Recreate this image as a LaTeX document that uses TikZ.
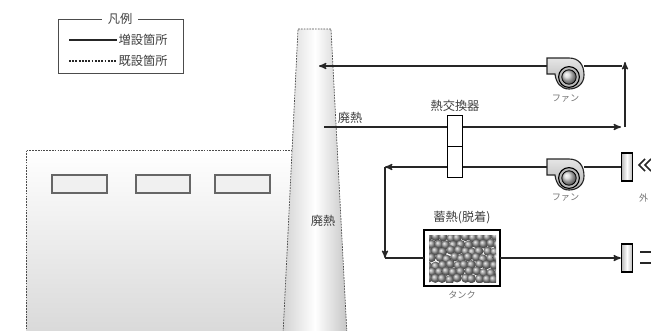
\documentclass[tikz,border=0pt]{standalone}
\usepackage{fontspec}
\newfontfamily\jpfont{Noto Sans CJK JP}
\usepackage{tikz}
\usetikzlibrary{arrows,calc,positioning,shadings}
\tikzstyle{line}=[draw,line width=0.9pt,black!85]
\tikzstyle{flowarrow}=[->,>=stealth']
\tikzstyle{txt}=[text=black!75,font=\jpfont\fontsize{8.7}{9}\selectfont,inner sep=1pt]
\tikzstyle{smalltxt}=[text=black!55,font=\jpfont\fontsize{6.5}{7}\selectfont,inner sep=1pt]
\tikzstyle{dashedge}=[draw=black!70,line width=0.5pt,dash pattern=on 1.2pt off 0.8pt]
\tikzstyle{hxbox}=[draw,line width=0.9pt,fill=white,minimum width=0.375cm,minimum height=0.775cm,inner sep=0pt]
\tikzstyle{damper}=[draw,line width=0.9pt,left color=gray!55,right color=gray!55,middle color=white,minimum width=0.275cm,minimum height=0.7cm,inner sep=0pt]
\tikzstyle{fanspot}=[inner sep=0pt,minimum width=0.925cm,minimum height=0.775cm]
\tikzstyle{tankbox}=[fill=white,inner sep=0pt,minimum width=1.875cm,minimum height=1.4cm]
\tikzstyle{window}=[draw=black!60,line width=0.8pt,fill=gray!12]
% centrifugal fan, outlet on the upper left
\newcommand{\blower}[1]{%
  \begin{scope}[shift={(#1)},shift={(3.5,3.5)}]
    \shadedraw[top color=gray!20,bottom color=gray!60,draw=black!85,line width=0.8pt]
      (-22,-19) -- (0,-19) .. controls (10,-19) and (15,-12) .. (15,-2)
      .. controls (15,7) and (8,12) .. (0,12) .. controls (-8,12) and (-13,6) .. (-14,-3)
      -- (-22,-3) -- cycle;
    \draw[line width=0.8pt,fill=gray!55] (0,0) circle (0.26cm);
    \shade[ball color=gray!35] (0,0) circle (0.18cm);
    \draw[line width=0.6pt] (0,0) circle (0.18cm);
  \end{scope}}

\begin{document}
\begin{tikzpicture}[x=0.025cm,y=-0.025cm]
\useasboundingbox (0,0) rectangle (651,330);
\clip (0,0) rectangle (651,330);
% legend
\draw[black!70,line width=0.6pt] (58,19) rectangle (183,73);
\node[txt,fill=white,inner xsep=4pt](legtitle) at (120,19){凡例};
\node[txt,anchor=west](newpart) at (117,40){増設箇所};
\node[txt,anchor=west](oldpart) at (117,61){既設箇所};
\draw[line,line width=1.4pt] (69,40) -- (newpart.west);
\draw[line,line width=1.4pt,dash pattern=on 1.3pt off 1pt] (69,61) -- (oldpart.west);
% existing building and stack
\shade[top color=white,bottom color=gray!30] (26,150) -- (292,150) -- (283,335) -- (26,335) -- cycle;
\draw[dashedge] (26,335) -- (26,150) -- (292,150);
\draw[window] (52,175) rectangle (107,193);
\draw[window] (136,175) rectangle (190,193);
\draw[window] (215,175) rectangle (270,193);
\shade[left color=gray!35,right color=gray!45,middle color=white] (298,29) -- (331,29) -- (347,335) -- (283,335) -- cycle;
\draw[dashedge] (283,335) -- (298,29) -- (331,29) -- (347,335);
\node[txt](stack) at (323,221){廃熱};
% equipment
\node[hxbox](hxA) at (455,131){};
\node[hxbox](hxB) at (455,162){};
\node[txt,above=1pt of hxA](hxname){熱交換器};
\node[fanspot](fanA) at (565.5,73.5){};
\node[fanspot](fanB) at (565.5,174.5){};
\blower{fanA}
\blower{fanB}
\node[smalltxt,below=3pt of fanA](fanAname){ファン};
\node[smalltxt,below=1pt of fanB](fanBname){ファン};
\node[damper](dampA) at (627,167){};
\node[damper](dampB) at (627,258){};
\node[tankbox](tank) at (462,258){};
\begin{scope}
\clip (429,235) rectangle (496,282);
\pgfmathsetseed{7}
\foreach \r in {0,...,6}{
  \foreach \c in {0,...,9}{
    \pgfmathsetmacro\px{428+\c*7.4+mod(\r,2)*3.7+rand*1.2}
    \pgfmathsetmacro\py{237+\r*7+rand*1.2}
    \shade[ball color=gray!85] (\px,\py) circle (0.115cm);
  }
}
\end{scope}
\draw[line width=1.7pt] (tank.south west) rectangle (tank.north east);
\node[txt,above=3pt of tank](tankname){蓄熱(脱着)};
\node[smalltxt,below=2pt of tank](tanklabel){タンク};
% connection points
\coordinate (chimA) at (319,66);
\coordinate (chimB) at (324,127);
\coordinate (topR) at (622,66);
\coordinate (riseB) at (625,127);
\coordinate (riseT) at (625,62);
\coordinate (midR) at (621,127);
\coordinate (turnA) at (385,167);
\coordinate (turnB) at (385,258);
% exhaust heat through the exchanger
\node[txt](wasteheat) at (350,118){廃熱};
\draw[line] (chimB) -- (hxA.west |- chimB);
\draw[line,flowarrow] (hxA.east |- chimB) -- (midR);
\draw[line,flowarrow] (riseB) -- (riseT);
\draw[line] (topR) -- (fanA.east |- topR);
\draw[line,flowarrow] (fanA.west |- topR) -- (chimA);
% outside air loop to the tank
\draw[line] (dampA.west) -- (fanB.east |- dampA);
\draw[line] (fanB.west |- dampA) -- (hxB.east |- dampA);
\draw[line,flowarrow] (hxB.west |- dampA) -- (turnA);
\draw[line,flowarrow] (turnA) -- (turnB);
\draw[line] (turnB) -- (tank.west);
\draw[line,flowarrow] (tank.east) -- (dampB.west);
% air in / air out
\draw[line,line width=1.1pt] (645,159) -- (639,165) -- (645,171);
\draw[line,line width=1.1pt] (651,159) -- (645,165) -- (651,171);
\node[smalltxt,anchor=east](outair) at (650,198){外};
\draw[line,line width=1.1pt] (640,252) -- (652,252);
\draw[line,line width=1.1pt] (640,263) -- (652,263);
\end{tikzpicture}
\end{document}
